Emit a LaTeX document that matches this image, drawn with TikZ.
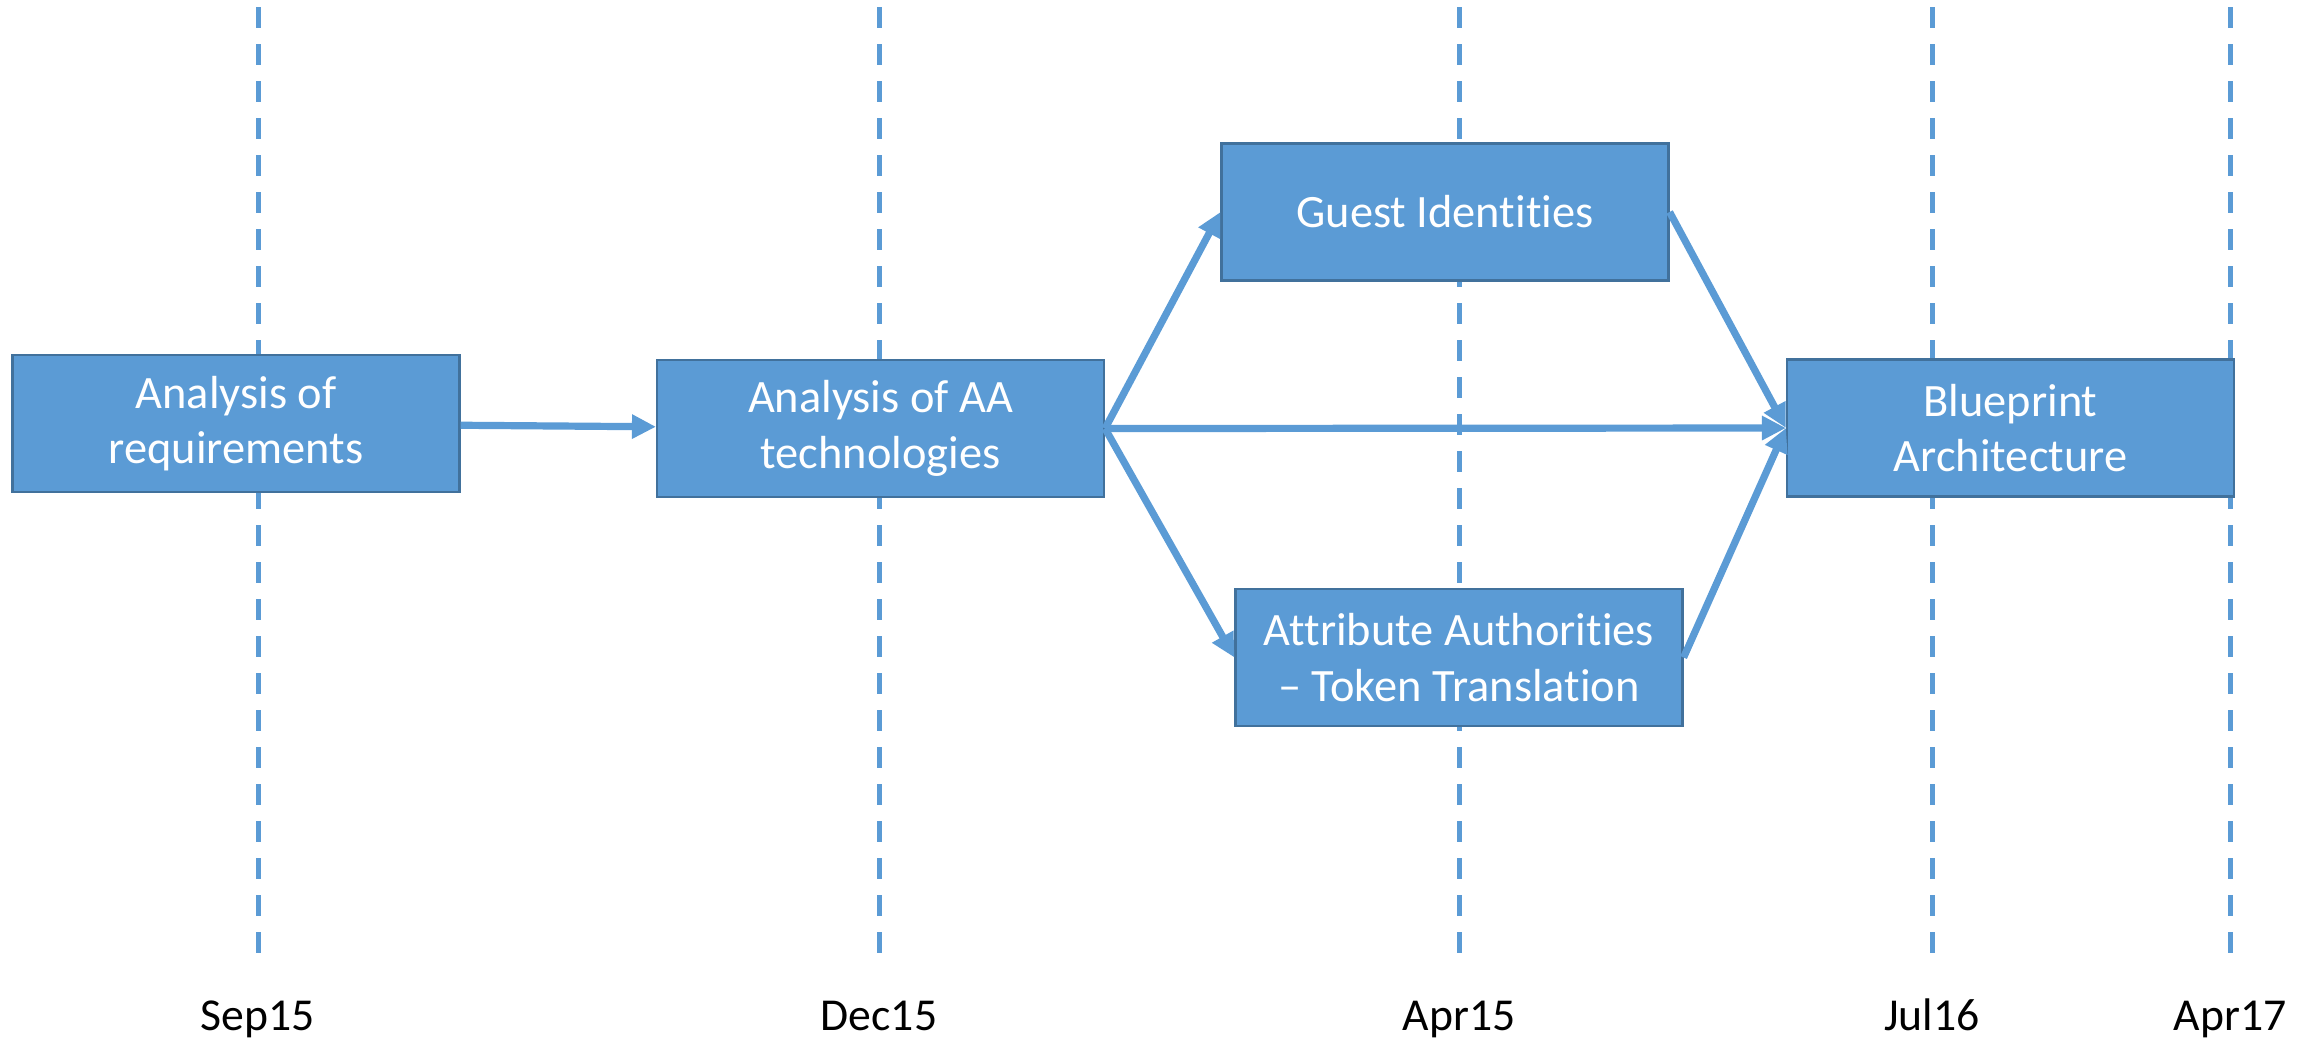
\documentclass[tikz,border=0pt]{standalone}
\usepackage{xcolor}
\usepackage{fontspec}
\setmainfont{Carlito}[Ligatures = CommonOff]
\usepackage{tikz}
\usetikzlibrary{arrows.meta}
\usetikzlibrary{positioning, backgrounds}
\definecolor{taskblue}{HTML}{5B9BD5}
\definecolor{taskedge}{HTML}{41719C}
\tikzset{
task/.style = { rectangle, draw = taskedge, line width = 0.6pt, fill = taskblue, text = white, align = center, minimum width = 4.47cm, minimum height = 1.37cm, inner sep = 0pt, font = \fontsize{13.2}{15.8}\selectfont },
milestone/.style = { draw = taskblue, line width = 0.05cm, dash pattern = on 0.21cm off 0.16cm },
date/.style = { anchor = base, inner sep = 0pt, text = black, font = \fontsize{13}{15.6}\selectfont },
flow/.style = { draw = taskblue, line width = 0.072cm, -{Triangle[length = 0.24cm, width = 0.23cm]} },
}

\begin{document}
\begin{tikzpicture}
      \useasboundingbox (0, -10.41) rectangle (23.07, 0);
      \foreach \x/\lbl in {2.58/Sep15, 8.79/Dec15, 14.59/Apr15, 19.32/Jul16, 22.30/Apr17} {
        \coordinate (top\lbl) at (\x, -0.07);
        \draw[milestone] (top\lbl) -- ++(0, -9.55);
        \node[date] (date\lbl) at (\x, -10.30) {\lbl};
      }
      \node[task] (reqs) at (2.36, -4.235) {Analysis of\\requirements};
      \node[task] (aatech) at (8.805, -4.285) {Analysis of AA\\technologies};
      \node[task] (guest) at (14.45, -2.12) {Guest Identities};
      \node[task] (attr) at (14.59, -6.575) {Attribute Authorities\\– Token Translation};
      \node[task] (blueprint) at (20.105, -4.28) {Blueprint\\Architecture};
      \draw[flow] (reqs) -- (aatech);
      \draw[flow] (aatech.east) -- (guest.west);
      \draw[flow] (aatech.east) -- (attr.west);
      \draw[flow] (aatech.east) -- (blueprint.west);
      \draw[flow] (guest.east) -- (blueprint.west);
      \draw[flow] (attr.east) -- (blueprint.west);
      % \node[date] at (11.5, -9.9) {};
    \end{tikzpicture}
\end{document}
